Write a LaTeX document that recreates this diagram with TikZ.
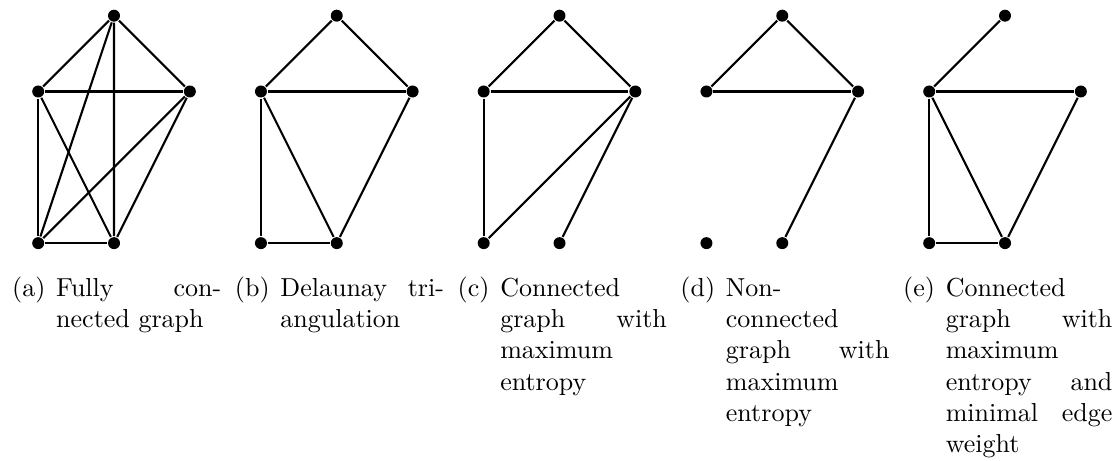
\documentclass[tikz,border=0pt]{standalone}
\usepackage{tikz}
\usetikzlibrary{positioning}

\begin{document}
\begin{tikzpicture}[auto,thick]
			\tikzstyle{vertex}=[circle,fill=black,inner sep=0pt,minimum size=0.162cm]
			\tikzstyle{sublabel}=[inner sep=0pt,anchor=base west]
			\tikzstyle{subcap}=[inner sep=0pt,anchor=base west,align=left]
			\useasboundingbox (0,0) rectangle (15.045,-6.218);
			% (a) fully connected
			\node[vertex]   (a1) at (1.541,-0.212)                  {};
			\node[vertex]   (a2)[below left of=a1,node distance=1.449cm] {};
			\node[vertex]   (a3)[right of=a2,node distance=2.05cm]  {};
			\node[vertex]   (a4)[below of=a2,node distance=2.05cm]  {};
			\node[vertex]   (a5)[right of=a4,node distance=1.025cm] {};
			% (b) delaunay
			\node[vertex]   (b1)[right of=a1,node distance=3.011cm] {};
			\node[vertex]   (b2)[below left of=b1,node distance=1.449cm] {};
			\node[vertex]   (b3)[right of=b2,node distance=2.05cm]  {};
			\node[vertex]   (b4)[below of=b2,node distance=2.05cm]  {};
			\node[vertex]   (b5)[right of=b4,node distance=1.025cm] {};
			% (c) connected, max entropy
			\node[vertex]   (c1)[right of=b1,node distance=3.011cm] {};
			\node[vertex]   (c2)[below left of=c1,node distance=1.449cm] {};
			\node[vertex]   (c3)[right of=c2,node distance=2.05cm]  {};
			\node[vertex]   (c4)[below of=c2,node distance=2.05cm]  {};
			\node[vertex]   (c5)[right of=c4,node distance=1.025cm] {};
			% (d) non-connected, max entropy
			\node[vertex]   (d1)[right of=c1,node distance=3.011cm] {};
			\node[vertex]   (d2)[below left of=d1,node distance=1.449cm] {};
			\node[vertex]   (d3)[right of=d2,node distance=2.05cm]  {};
			\node[vertex]   (d4)[below of=d2,node distance=2.05cm]  {};
			\node[vertex]   (d5)[right of=d4,node distance=1.025cm] {};
			% (e) connected, max entropy, min weight
			\node[vertex]   (e1)[right of=d1,node distance=3.011cm] {};
			\node[vertex]   (e2)[below left of=e1,node distance=1.449cm] {};
			\node[vertex]   (e3)[right of=e2,node distance=2.05cm]  {};
			\node[vertex]   (e4)[below of=e2,node distance=2.05cm]  {};
			\node[vertex]   (e5)[right of=e4,node distance=1.025cm] {};
			\path
			(a1) edge (a2) (a1) edge (a3) (a1) edge (a4) (a1) edge (a5)
			(a2) edge (a3) (a2) edge (a4) (a2) edge (a5)
			(a3) edge (a4) (a3) edge (a5) (a4) edge (a5)
			(b1) edge (b2) (b1) edge (b3) (b2) edge (b3) (b2) edge (b4)
			(b2) edge (b5) (b3) edge (b5) (b4) edge (b5)
			(c1) edge (c2) (c1) edge (c3) (c2) edge (c3) (c2) edge (c4)
			(c3) edge (c4) (c3) edge (c5)
			(d1) edge (d2) (d1) edge (d3) (d2) edge (d3) (d3) edge (d5)
			(e1) edge (e2) (e2) edge (e3) (e2) edge (e4) (e2) edge (e5)
			(e3) edge (e5) (e4) edge (e5);
			% captions
			\node[sublabel] (la) at ([xshift=-0.365cm,yshift=-0.72cm]a4) {(a)};
			\node[subcap,text width=63.5pt] (ta) at ([xshift=3.33pt]la.base east) {Fully \hfill con-\\nected graph};
			\node[sublabel] (lb) at ([xshift=-0.365cm,yshift=-0.72cm]b4) {(b)};
			\node[subcap,text width=62.9pt] (tb) at ([xshift=3.33pt]lb.base east) {Delaunay \hfill tri-\\angulation};
			\node[sublabel] (lc) at ([xshift=-0.365cm,yshift=-0.72cm]c4) {(c)};
			\node[subcap,text width=64.1pt] (tc) at ([xshift=3.33pt]lc.base east) {Connected\\graph \hfill with\\maximum\\entropy};
			\node[sublabel] (ld) at ([xshift=-0.365cm,yshift=-0.72cm]d4) {(d)};
			\node[subcap,text width=62.9pt] (td) at ([xshift=3.33pt]ld.base east) {Non-\\connected\\graph \hfill with\\maximum\\entropy};
			\node[sublabel] (le) at ([xshift=-0.365cm,yshift=-0.72cm]e4) {(e)};
			\node[subcap,text width=64.1pt] (te) at ([xshift=3.33pt]le.base east) {Connected\\graph \hfill with\\maximum\\entropy \hfill and\\minimal \hfill edge\\weight};
		\end{tikzpicture}
\end{document}
